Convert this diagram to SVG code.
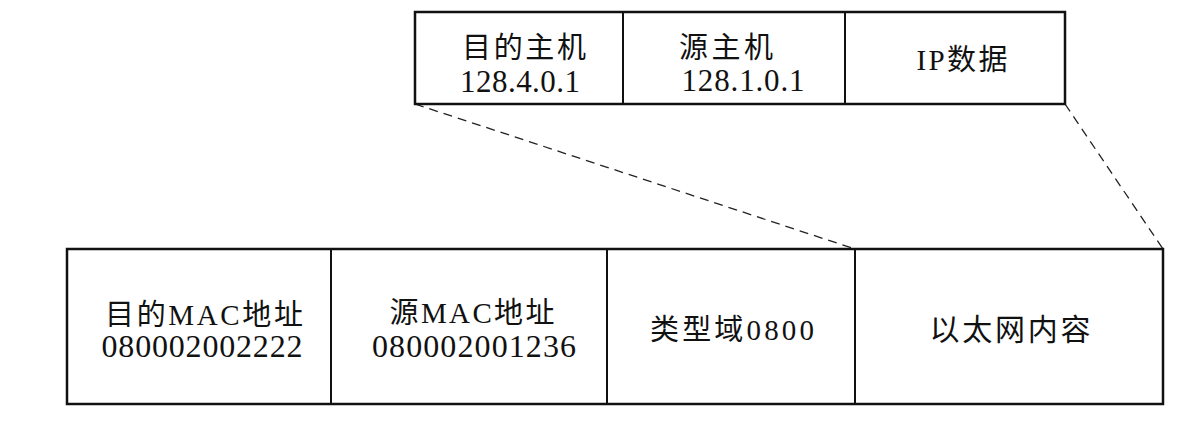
<svg xmlns="http://www.w3.org/2000/svg" width="1200" height="435" viewBox="0 0 1200 435">
<style>
.box{fill:#fff;stroke:#111;stroke-width:2.5}
.div{stroke:#111;stroke-width:2}
.dash{stroke:#222;stroke-width:1.3;stroke-dasharray:9 6;fill:none}
.cn{font-family:"Liberation Serif","Noto Sans CJK SC",serif;fill:#111;text-anchor:middle}
.num{font-family:"Liberation Serif",serif;fill:#111;text-anchor:middle}
</style>
<rect width="1200" height="435" fill="#fff"/>
<g id="connectors">
<line class="dash" x1="415" y1="104" x2="855" y2="249"/>
<line class="dash" x1="1065" y1="104" x2="1163" y2="249"/>
</g>
<g id="ip-packet">
<rect class="box" x="415" y="12" width="650" height="92"/>
<line class="div" x1="623" y1="12" x2="623" y2="104"/>
<line class="div" x1="845" y1="12" x2="845" y2="104"/>
</g>
<g id="ip-dst">
<text class="cn" x="524" y="58" font-size="29" textLength="124" lengthAdjust="spacing">目的主机</text>
<text class="num" x="520" y="92" font-size="31" textLength="120" lengthAdjust="spacing">128.4.0.1</text>
</g>
<g id="ip-src">
<text class="cn" x="726" y="58" font-size="29" textLength="94" lengthAdjust="spacing">源主机</text>
<text class="num" x="743" y="91" font-size="31" textLength="123" lengthAdjust="spacing">128.1.0.1</text>
</g>
<g id="ip-data">
<text class="cn" x="962" y="70" font-size="29" textLength="91" lengthAdjust="spacing">IP数据</text>
</g>
<g id="eth-frame">
<rect class="box" x="67" y="249" width="1096" height="155"/>
<line class="div" x1="331" y1="249" x2="331" y2="404"/>
<line class="div" x1="607" y1="249" x2="607" y2="404"/>
<line class="div" x1="855" y1="249" x2="855" y2="404"/>
</g>
<g id="eth-dst">
<text class="cn" x="204" y="325" font-size="29" textLength="198" lengthAdjust="spacing">目的MAC地址</text>
<text class="num" x="202" y="357" font-size="32" textLength="201" lengthAdjust="spacing">080002002222</text>
</g>
<g id="eth-src">
<text class="cn" x="472" y="323" font-size="29" textLength="165" lengthAdjust="spacing">源MAC地址</text>
<text class="num" x="474" y="357" font-size="32" textLength="204" lengthAdjust="spacing">080002001236</text>
</g>
<g id="eth-type">
<text class="cn" x="732" y="340" font-size="29" textLength="164" lengthAdjust="spacing">类型域0800</text>
</g>
<g id="eth-payload">
<text class="cn" x="1010" y="340" font-size="30" textLength="161" lengthAdjust="spacing">以太网内容</text>
</g>
</svg>
